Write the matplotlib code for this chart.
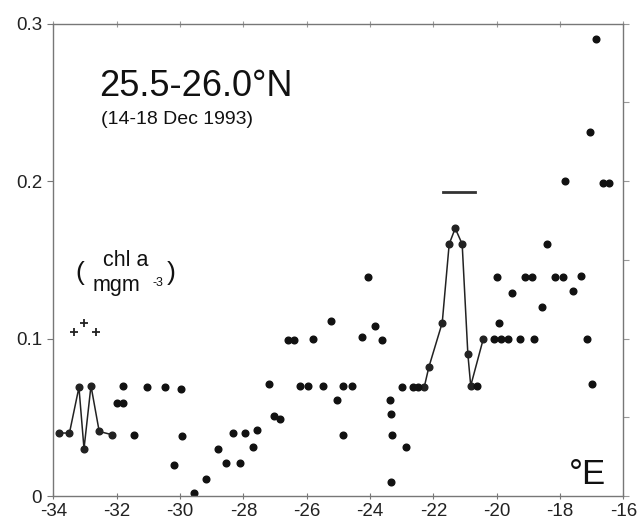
"""
Chlorophyll a along 25.5-26.0 N, 14-18 Dec 1993
"""
import numpy as np
import matplotlib.pyplot as plt

plt.rcParams['font.family'] = ['Liberation Sans', 'DejaVu Sans']

# connected segments
line1_lon = [-33.81, -33.49, -33.19, -33.03, -32.81, -32.55, -32.16]
line1_chl = [0.040, 0.040, 0.069, 0.030, 0.070, 0.041, 0.039]
line2_lon = [-22.29, -22.14, -21.72, -21.50, -21.31, -21.09, -20.91, -20.82, -20.42]
line2_chl = [0.069, 0.082, 0.110, 0.160, 0.170, 0.160, 0.090, 0.070, 0.100]

# isolated stations
dots_lon = [-32.00, -31.79, -31.79, -31.45, -31.03, -30.47, -29.97, -29.95, -30.19,
            -29.55, -29.19, -28.80, -28.55, -28.33, -28.10, -27.94, -27.69, -27.58,
            -27.19, -27.02, -26.83, -26.58, -26.40, -26.21, -25.95, -25.79, -25.49,
            -25.24, -25.05, -24.84, -24.84, -24.57, -24.26, -24.05, -23.85, -23.61,
            -23.37, -23.33, -23.32, -23.35, -22.99, -22.87, -22.65, -22.47, -20.63,
            -20.08, -20.00, -19.93, -19.86, -19.65, -19.53, -19.27, -19.10, -18.87,
            -18.81, -18.58, -18.41, -18.17, -17.92, -17.85, -17.59, -17.33, -17.16,
            -16.99, -16.63, -16.44, -16.86, -17.04]
dots_chl = [0.059, 0.059, 0.070, 0.039, 0.069, 0.069, 0.068, 0.038, 0.020,
            0.002, 0.011, 0.030, 0.021, 0.040, 0.021, 0.040, 0.031, 0.042,
            0.071, 0.051, 0.049, 0.099, 0.099, 0.070, 0.070, 0.100, 0.070,
            0.111, 0.061, 0.070, 0.039, 0.070, 0.101, 0.139, 0.108, 0.099,
            0.061, 0.052, 0.039, 0.009, 0.069, 0.031, 0.069, 0.069, 0.070,
            0.100, 0.139, 0.110, 0.100, 0.100, 0.129, 0.100, 0.139, 0.139,
            0.100, 0.120, 0.160, 0.139, 0.139, 0.200, 0.130, 0.140, 0.100,
            0.071, 0.199, 0.199, 0.290, 0.231]

# crosses
plus_lon = [-33.35, -33.02, -32.66]
plus_chl = [0.104, 0.110, 0.104]

# horizontal bar
bar_lon = [-21.70, -20.68]
bar_chl = [0.193, 0.193]


def main():
    fig = plt.figure(figsize=(6.42, 5.24), dpi=100)
    ax = fig.add_axes([0.083, 0.0534, 0.888, 0.9016])

    ax.plot(line1_lon, line1_chl, '-o', color='#222', lw=1.1, ms=4.8)
    ax.plot(line2_lon, line2_chl, '-o', color='#222', lw=1.1, ms=4.8)
    ax.plot(dots_lon, dots_chl, 'o', color='#111', ms=4.8)
    ax.plot(plus_lon, plus_chl, '+', color='#222', ms=6, mew=1.3)
    ax.plot(bar_lon, bar_chl, '-', color='#333', lw=2)

    ax.set_xlim(-34, -16)
    ax.set_ylim(0, 0.3)
    ax.set_xticks(np.arange(-34, -15, 2))
    ax.set_xticklabels([str(v) for v in range(-34, -15, 2)])
    ax.set_yticks([0, 0.1, 0.2, 0.3])
    ax.set_yticklabels(['0', '0.1', '0.2', '0.3'])

    for s in ax.spines.values():
        s.set_color('#777')
        s.set_linewidth(1)

    ax.tick_params(axis='both', labelsize=13.5, colors='#222', length=4,
                   width=0.8)
    ax.tick_params(axis='x', direction='inout', color='#777', pad=3)
    ax.tick_params(axis='y', direction='out', color='#777', pad=4)

    # top and right ticks without labels
    top = ax.secondary_xaxis('top')
    top.set_xticks(np.arange(-34, -15, 2))
    top.tick_params(direction='inout', length=4, color='#999', labeltop=False)
    top.spines['top'].set_visible(False)
    right = ax.secondary_yaxis('right')
    right.set_yticks(np.arange(0, 0.31, 0.05))
    right.tick_params(direction='out', length=4, color='#999', labelright=False)
    right.spines['right'].set_visible(False)

    ax.text(-32.55, 0.26, '25.5-26.0°N', fontsize=26, va='center', color='#111')
    ax.text(-32.48, 0.239, '(14-18 Dec 1993)', fontsize=14, va='center', color='#111')

    ax.text(-31.70, 0.1494, 'chl a', fontsize=15.5, ha='center', va='center', color='#111')
    ax.text(-32.02, 0.1335, 'mgm', fontsize=15.5, ha='center', va='center', color='#111')
    ax.text(-30.70, 0.1354, '-3', fontsize=9, ha='center', va='center', color='#111')
    ax.text(-33.16, 0.1418, '(', fontsize=19, ha='center', va='center', color='#111')
    ax.text(-30.29, 0.1418, ')', fontsize=19, ha='center', va='center', color='#111')

    ax.text(-17.12, 0.0134, '°E', fontsize=25, ha='center', va='center', color='#111')

    fig.savefig('out.png', dpi=100)


if __name__ == "__main__":
    main()
